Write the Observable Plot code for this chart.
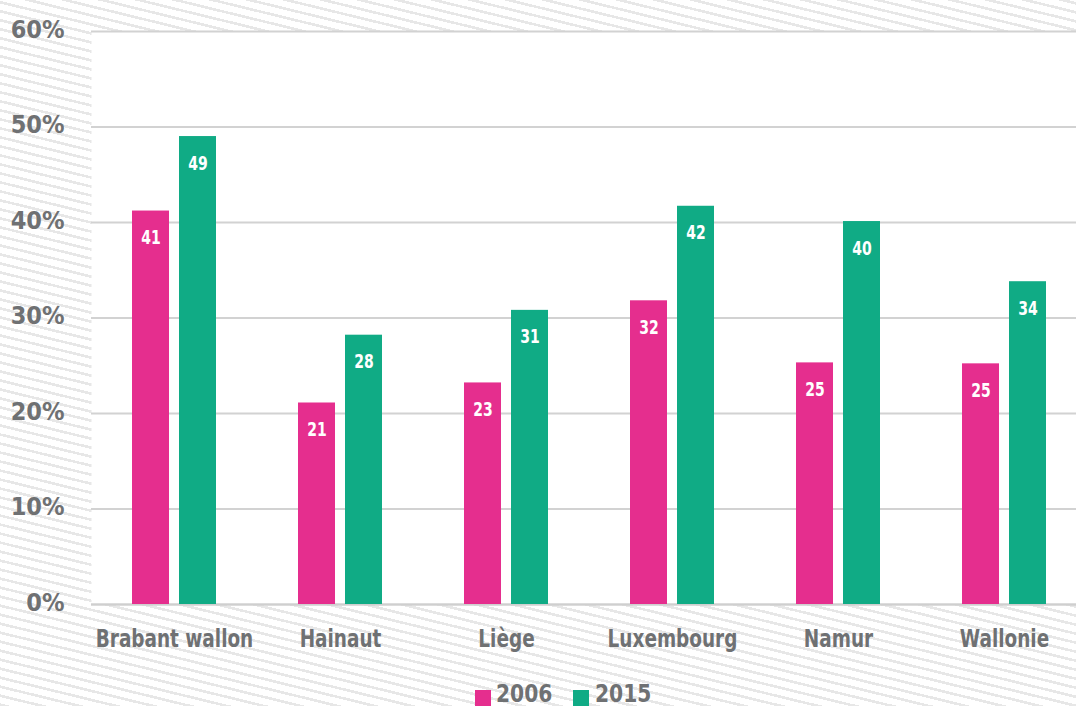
<!DOCTYPE html>
<html>
<head>
<meta charset="utf-8">
<script src="https://cdn.jsdelivr.net/npm/d3@7"></script>
<script src="https://cdn.jsdelivr.net/npm/@observablehq/plot@0.6"></script>
<style>
  html, body { margin: 0; padding: 0; overflow: hidden; }
  body {
    width: 1076px; height: 706px;
    background: repeating-linear-gradient(13.7deg, #e7e7e7 0px, #e7e7e7 2.6px, #ffffff 2.6px, #ffffff 8.75px);
    font-family: "DejaVu Sans Condensed", "Liberation Sans Narrow", Roboto, sans-serif;
  }
  #wrap { position: relative; width: 1076px; height: 706px; }
  #chart svg { background: transparent !important; display: block; }
  .sw { position: absolute; width: 16px; height: 16px; top: 690px; }
  .lt { position: absolute; top: 683px; font-weight: bold; font-size: 25px; line-height: 22px;
        color: #6f7173; transform: scaleX(0.9); transform-origin: left center; white-space: nowrap; }
</style>
</head>
<body>
<div id="wrap">
  <div id="chart"></div>
</div>
<script>
const regions = ["Brabant wallon", "Hainaut", "Liège", "Luxembourg", "Namur", "Wallonie"];
const values2006 = [41.2, 21.1, 23.2, 31.8, 25.3, 25.2];
const values2015 = [49.0, 28.2, 30.8, 41.7, 40.1, 33.8];
const years = ["2006", "2015"];
const yTicks = [0, 10, 20, 30, 40, 50, 60];
const colors = ["#e52e8e", "#10ab85"];

const d2006 = regions.map((r, i) => ({region: r, value: values2006[i]}));
const d2015 = regions.map((r, i) => ({region: r, value: values2015[i]}));

const font = '"DejaVu Sans Condensed", "Liberation Sans Narrow", Roboto, sans-serif';
const grey = "#6f7173";

const plot = Plot.plot({
  width: 1076,
  height: 672,
  marginLeft: 91,
  marginRight: 0,
  marginTop: 31,
  marginBottom: 68,
  style: {fontFamily: font, background: "transparent", overflow: "visible"},
  x: {domain: regions, range: [91, 1087], padding: 0, label: null},
  y: {domain: [0, 60], label: null},
  marks: [
    Plot.frame({fill: "white", stroke: null}),
    Plot.gridY(yTicks, {stroke: "#d2d2d2", strokeOpacity: 1, strokeWidth: 2}),
    Plot.ruleY([0], {stroke: "#cfcfcf", strokeWidth: 2}),
    Plot.barY(d2006, {x: "region", y: "value", fill: colors[0], insetLeft: 41, insetRight: 88}),
    Plot.barY(d2015, {x: "region", y: "value", fill: colors[1], insetLeft: 88, insetRight: 41}),
    Plot.text(d2006, {x: "region", y: "value", text: d => String(Math.round(d.value)), dx: -23.5, dy: 27,
      fill: "white", fontWeight: "bold", fontSize: 19, className: "barlabel"}),
    Plot.text(d2015, {x: "region", y: "value", text: d => String(Math.round(d.value)), dx: 23.5, dy: 27,
      fill: "white", fontWeight: "bold", fontSize: 19, className: "barlabel"}),
    Plot.axisY(yTicks, {tickSize: 0, tickPadding: 27, tickFormat: d => d + "%", fontSize: 25,
      fontWeight: "bold", fill: grey, label: null, dy: -2}),
    Plot.axisX({tickSize: 0, tickPadding: 25, fontSize: 25, fontWeight: "bold", fill: grey, label: null,
      className: "xlab"})
  ]
});
document.getElementById("chart").appendChild(plot);

// condense the wide fallback font to match the narrow face of the reference
function condense(sel, factor) {
  plot.querySelectorAll(sel).forEach(t => {
    const len = t.getComputedTextLength();
    t.setAttribute("textLength", (len * factor).toFixed(1));
    t.setAttribute("lengthAdjust", "spacingAndGlyphs");
  });
}
condense("g[aria-label='x-axis tick label'] text", 0.82);
condense("g[aria-label='text'] text", 0.82);

const wrap = document.getElementById("wrap");
const swLeft = [475, 573];
const txtLeft = [496, 595];
years.forEach((y, i) => {
  const sw = document.createElement("div");
  sw.className = "sw";
  sw.style.left = swLeft[i] + "px";
  sw.style.background = colors[i];
  const t = document.createElement("div");
  t.className = "lt";
  t.style.left = txtLeft[i] + "px";
  t.textContent = y;
  wrap.appendChild(sw);
  wrap.appendChild(t);
});
</script>
</body>
</html>
